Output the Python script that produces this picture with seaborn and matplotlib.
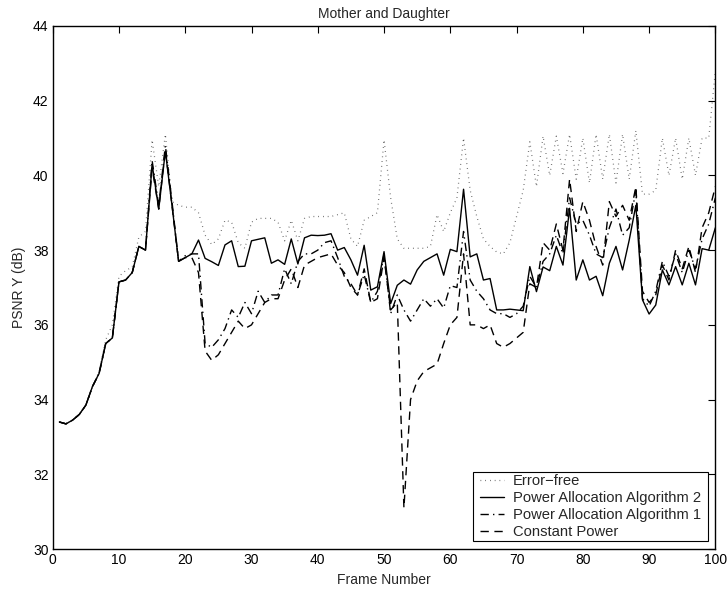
import numpy as np
import pandas as pd
import matplotlib
matplotlib.use("Agg")
import matplotlib.pyplot as plt
from matplotlib.legend_handler import HandlerLine2D
import seaborn as sns

frames = list(range(1, 101))

error_free = [
    33.4, 33.35, 33.45, 33.6, 33.85, 34.35, 34.75, 35.6, 36.0, 37.3,
    37.45, 37.55, 38.35, 38.5, 40.95, 39.7, 41.1, 39.3, 39.2, 39.15,
    39.15, 39.0, 38.4, 38.15, 38.3, 38.8, 38.75, 38.2, 38.05, 38.75,
    38.85, 38.85, 38.85, 38.75, 38.25, 38.8, 38.25, 38.85, 38.9, 38.9,
    38.9, 38.9, 38.95, 39.0, 38.3, 38.1, 38.8, 38.9, 39.0, 40.95,
    39.4, 38.3, 38.05, 38.05, 38.05, 38.05, 38.1, 38.95, 38.5, 39.0,
    39.4, 41.0, 39.6, 38.9, 38.3, 38.1, 37.95, 37.9, 38.2, 38.9,
    39.6, 40.9, 39.7, 41.05, 40.0, 41.05, 40.05, 41.1, 39.9, 41.0,
    39.8, 41.1, 39.9, 41.1, 39.8, 41.1, 39.9, 41.2, 39.5, 39.5,
    39.6, 41.0, 40.0, 41.0, 39.9, 41.0, 40.0, 41.0, 41.0, 42.8,
]

algorithm_2 = [
    33.4, 33.35, 33.45, 33.6, 33.85, 34.35, 34.7, 35.5, 35.65, 37.15,
    37.2, 37.4, 38.1, 38.0, 40.3, 39.1, 40.65, 39.2, 37.7, 37.8,
    37.9, 38.27, 37.78, 37.69, 37.59, 38.14, 38.25, 37.56, 37.57, 38.25,
    38.29, 38.33, 37.65, 37.74, 37.62, 38.3, 37.63, 38.33, 38.4, 38.39,
    38.4, 38.44, 38.0, 38.07, 37.74, 37.33, 38.13, 36.93, 37.02, 37.96,
    36.57, 37.06, 37.2, 37.09, 37.47, 37.7, 37.8, 37.9, 37.33, 38.02,
    37.96, 39.63, 37.82, 37.9, 37.2, 37.24, 36.4, 36.4, 36.42, 36.4,
    36.38, 37.56, 36.89, 37.55, 37.45, 38.1, 37.6, 39.12, 37.2, 37.74,
    37.2, 37.3, 36.78, 37.65, 38.1, 37.47, 38.27, 39.2, 36.67, 36.29,
    36.53, 37.47, 37.07, 37.56, 37.07, 37.65, 37.07, 38.04, 38.0, 38.6,
]

algorithm_1 = [
    33.4, 33.35, 33.45, 33.6, 33.85, 34.35, 34.7, 35.5, 35.65, 37.15,
    37.2, 37.4, 38.1, 38.0, 40.4, 39.2, 40.8, 39.3, 37.7, 37.85,
    37.9, 37.9, 35.5, 35.4, 35.6, 35.9, 36.4, 36.2, 36.6, 36.3,
    36.9, 36.6, 36.8, 36.8, 37.5, 37.1, 37.7, 37.9, 37.9, 38.0,
    38.2, 38.25, 37.8, 37.3, 37.1, 36.8, 37.35, 36.6, 36.9, 37.9,
    36.3, 36.8, 36.4, 36.1, 36.4, 36.7, 36.5, 36.7, 36.45, 37.05,
    37.0, 38.5, 37.2, 36.9, 36.7, 36.4, 36.3, 36.3, 36.2, 36.3,
    36.5, 37.3, 37.0, 37.7, 37.9, 38.4, 37.9, 39.4, 38.7, 38.8,
    38.4, 37.9, 37.8, 38.6, 39.1, 38.4, 38.6, 39.6, 36.7, 36.5,
    36.9, 37.7, 37.3, 37.9, 37.4, 38.0, 37.5, 38.3, 38.7, 39.4,
]

constant_power = [
    33.4, 33.35, 33.45, 33.6, 33.85, 34.35, 34.7, 35.5, 35.65, 37.15,
    37.2, 37.4, 38.1, 38.0, 40.2, 39.1, 40.7, 39.2, 37.7, 37.8,
    37.8, 37.4, 35.3, 35.05, 35.2, 35.5, 35.8, 36.1, 35.9, 36.0,
    36.3, 36.6, 36.7, 36.7, 37.2, 37.5, 37.0, 37.6, 37.7, 37.8,
    37.85, 37.9, 37.6, 37.4, 37.0, 36.8, 37.5, 36.6, 36.7, 37.8,
    36.4, 36.6, 31.1, 34.0, 34.5, 34.75, 34.85, 34.95, 35.5, 36.0,
    36.2, 37.9, 36.0, 36.0, 35.9, 36.0, 35.5, 35.4, 35.5, 35.65,
    35.8, 37.1, 37.0, 38.2, 38.0, 38.7, 38.0, 39.9, 38.5, 39.3,
    38.8, 38.1, 37.6, 39.3, 38.9, 39.2, 38.8, 39.7, 36.9, 36.6,
    36.8, 37.6, 37.2, 38.0, 37.5, 38.1, 37.4, 38.6, 39.0, 39.7,
]

series_names = ["Error\u2212free", "Power Allocation Algorithm 2",
                "Power Allocation Algorithm 1", "Constant Power"]
series_values = [error_free, algorithm_2, algorithm_1, constant_power]
x_ticks = list(range(0, 101, 10))
y_ticks = list(range(30, 45, 2))

sns.set_theme(style="white")
plt.rcParams["font.family"] = ["Liberation Sans", "DejaVu Sans"]
plt.rcParams["axes.unicode_minus"] = True

fig = plt.figure(figsize=(7.27, 5.92), dpi=100)
ax = fig.add_axes([0.0725, 0.0726, 0.9115, 0.8835])

line_styles = [
    dict(linestyle=(0, (0.6, 3.2)), linewidth=0.9, color="#555555"),
    dict(linestyle="-", linewidth=1.0, color="black"),
    dict(linestyle=(0, (6, 3, 1, 3)), linewidth=1.0, color="black"),
    dict(linestyle=(0, (6, 4)), linewidth=1.0, color="black"),
]

for name, vals, st in zip(series_names, series_values, line_styles):
    df = pd.DataFrame({"frame": frames, "psnr": vals})
    sns.lineplot(data=df, x="frame", y="psnr", ax=ax, label=name, **st)

ax.set_xlim(0, 100)
ax.set_ylim(30, 44)
ax.set_xticks(x_ticks)
ax.set_yticks(y_ticks)
ax.tick_params(direction="in", length=5, width=0.8, top=True, right=True,
               labelsize=10, colors="black", pad=3)
for sp in ax.spines.values():
    sp.set_color("black")
    sp.set_linewidth(1.0)

ax.set_xlabel("Frame Number", fontsize=10, labelpad=4)
ax.set_ylabel("PSNR Y (dB)", fontsize=10, labelpad=5)
ax.set_title("Mother and Daughter", fontsize=10, pad=6)

# legend box: wide side margins, tight top/bottom margins
leg = ax.legend(loc="lower right", bbox_to_anchor=(0.9813, 0.0153),
                borderaxespad=0, fontsize=10.6, frameon=True, fancybox=False,
                edgecolor="black", framealpha=1, borderpad=0.15,
                labelspacing=0.2, handlelength=1.63, handletextpad=0.6,
                handler_map={plt.Line2D: HandlerLine2D()})
frame = leg.get_frame()
frame.set_linewidth(0.8)
frame.set_boxstyle("square", pad=0.34)
frame.set_mutation_aspect(0.01)

fig.savefig("out.png", dpi=100)
